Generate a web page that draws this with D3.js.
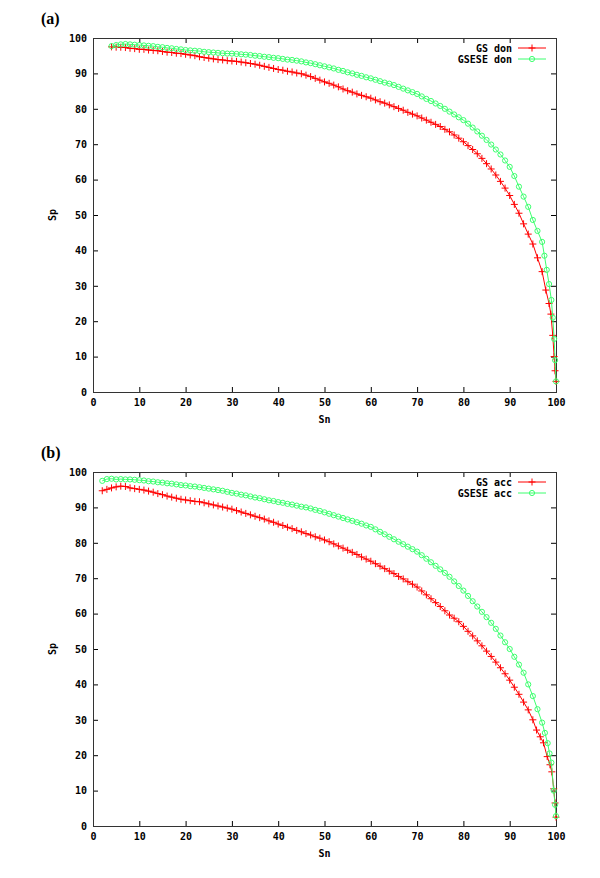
<!DOCTYPE html>
<html>
<head>
<meta charset="utf-8">
<script src="https://cdn.jsdelivr.net/npm/d3@7"></script>
<style>
  body { margin: 0; background: #fff; }
  .axis text { font-family: "DejaVu Sans Mono", monospace; font-weight: bold; font-size: 10px; fill: #000; }
  .axis line { stroke: #000; }
  .lbl { font-family: "DejaVu Sans Mono", monospace; font-weight: bold; font-size: 10px; fill: #000; }
</style>
</head>
<body>
<div id="chart"></div>
<script>
// [Sn, Sp] pairs
const gsDon = [[4,97.5],[5,97.4],[6,97.4],[7,97.3],[8,97.1],[9,97.0],[10,96.8],[11,96.8],[12,96.6],[13,96.5],[14,96.4],[15,96.2],[16,96.0],[17,95.9],[18,95.7],[19,95.6],[20,95.4],[21,95.2],[22,95.0],[23,94.7],[24,94.5],[25,94.3],[26,94.1],[27,93.9],[28,93.8],[29,93.6],[30,93.5],[31,93.4],[32,93.2],[33,93.0],[34,92.8],[35,92.6],[36,92.3],[37,92.0],[38,91.7],[39,91.4],[40,91.1],[41,90.9],[42,90.6],[43,90.4],[44,90.1],[45,89.9],[46,89.5],[47,89.1],[48,88.6],[49,88.1],[50,87.6],[51,87.2],[52,86.7],[53,86.2],[54,85.6],[55,85.1],[56,84.7],[57,84.2],[58,83.8],[59,83.4],[60,83.0],[61,82.5],[62,82.0],[63,81.6],[64,81.1],[65,80.6],[66,80.1],[67,79.6],[68,79.0],[69,78.5],[70,78.0],[71,77.4],[72,76.8],[73,76.2],[74,75.6],[75,75.0],[76,74.2],[77,73.5],[78,72.6],[79,71.7],[80,70.7],[81,69.6],[82,68.5],[83,67.3],[84,66.0],[85,64.5],[86,63.0],[87,61.3],[88,59.5],[89,57.6],[90,55.5],[91,53.0],[92,50.5],[93,47.5],[94,44.6],[95,41.8],[96,37.9],[97,34.0],[97.8,28.8],[98.5,25.0],[98.9,22.0],[99.3,16.0],[99.6,10.0],[99.8,6.0],[100,3.0]];

const gseseDon = [[4,97.7],[5,98.0],[6,98.2],[7,98.3],[8,98.2],[9,98.1],[10,98.0],[11,97.9],[12,97.8],[13,97.7],[14,97.5],[15,97.4],[16,97.2],[17,97.1],[18,96.9],[19,96.8],[20,96.6],[21,96.5],[22,96.4],[23,96.3],[24,96.1],[25,96.0],[26,95.9],[27,95.8],[28,95.7],[29,95.6],[30,95.6],[31,95.5],[32,95.4],[33,95.3],[34,95.2],[35,95.0],[36,94.9],[37,94.7],[38,94.6],[39,94.4],[40,94.3],[41,94.1],[42,93.9],[43,93.8],[44,93.6],[45,93.4],[46,93.1],[47,92.9],[48,92.6],[49,92.3],[50,92.0],[51,91.7],[52,91.4],[53,91.0],[54,90.7],[55,90.3],[56,90.0],[57,89.6],[58,89.3],[59,88.9],[60,88.6],[61,88.2],[62,87.8],[63,87.4],[64,87.1],[65,86.7],[66,86.2],[67,85.7],[68,85.2],[69,84.7],[70,84.2],[71,83.5],[72,82.8],[73,82.2],[74,81.5],[75,80.8],[76,80.0],[77,79.2],[78,78.4],[79,77.6],[80,76.8],[81,75.8],[82,74.7],[83,73.6],[84,72.4],[85,71.2],[86,69.9],[87,68.5],[88,67.1],[89,65.4],[90,63.6],[91,61.0],[92,58.0],[93,55.2],[94,52.3],[95,48.6],[96,45.5],[97,42.4],[97.5,38.5],[98,34.5],[98.5,30.5],[99,26.0],[99.3,21.0],[99.6,15.0],[99.8,9.0],[100,3.0]];

const gsAcc = [[2,94.7],[3,95.1],[4,95.5],[5,95.8],[6,96.0],[7,95.9],[8,95.5],[9,95.3],[10,95.1],[11,94.9],[12,94.6],[13,94.3],[14,93.9],[15,93.6],[16,93.2],[17,92.9],[18,92.6],[19,92.3],[20,92.1],[21,91.9],[22,91.7],[23,91.6],[24,91.3],[25,91.0],[26,90.7],[27,90.4],[28,90.1],[29,89.8],[30,89.5],[31,89.1],[32,88.7],[33,88.3],[34,87.9],[35,87.5],[36,87.1],[37,86.7],[38,86.2],[39,85.8],[40,85.3],[41,84.9],[42,84.4],[43,84.0],[44,83.5],[45,83.1],[46,82.6],[47,82.2],[48,81.7],[49,81.3],[50,80.8],[51,80.3],[52,79.7],[53,79.1],[54,78.5],[55,77.9],[56,77.3],[57,76.7],[58,76.0],[59,75.4],[60,74.8],[61,74.1],[62,73.4],[63,72.7],[64,72.0],[65,71.3],[66,70.5],[67,69.8],[68,69.0],[69,68.3],[70,67.5],[71,66.4],[72,65.3],[73,64.2],[74,63.1],[75,62.0],[76,60.8],[77,59.6],[78,58.7],[79,57.7],[80,56.4],[81,55.0],[82,53.7],[83,52.3],[84,50.9],[85,49.4],[86,47.9],[87,46.3],[88,44.7],[89,43.0],[90,41.2],[91,39.2],[92,37.2],[93,35.0],[94,32.8],[95,30.0],[95.8,27.1],[96.6,25.2],[97.3,23.5],[98.1,19.6],[98.7,17.3],[99.1,15.3],[99.5,10.5],[99.8,6.5],[100,2.5]];

const gseseAcc = [[2,97.5],[3,98.0],[4,98.1],[5,97.9],[6,98.0],[7,97.9],[8,97.9],[9,97.8],[10,97.7],[11,97.6],[12,97.4],[13,97.3],[14,97.1],[15,97.0],[16,96.8],[17,96.7],[18,96.5],[19,96.3],[20,96.2],[21,96.0],[22,95.9],[23,95.7],[24,95.5],[25,95.3],[26,95.1],[27,94.9],[28,94.7],[29,94.4],[30,94.1],[31,93.9],[32,93.6],[33,93.4],[34,93.1],[35,92.8],[36,92.6],[37,92.3],[38,92.0],[39,91.8],[40,91.5],[41,91.3],[42,91.0],[43,90.8],[44,90.5],[45,90.2],[46,90.0],[47,89.7],[48,89.3],[49,89.0],[50,88.6],[51,88.2],[52,87.8],[53,87.4],[54,87.0],[55,86.6],[56,86.2],[57,85.8],[58,85.4],[59,84.9],[60,84.5],[61,83.8],[62,83.1],[63,82.4],[64,81.7],[65,81.0],[66,80.3],[67,79.6],[68,78.9],[69,78.2],[70,77.5],[71,76.5],[72,75.5],[73,74.5],[74,73.5],[75,72.5],[76,71.5],[77,70.4],[78,69.1],[79,67.8],[80,66.5],[81,65.0],[82,63.5],[83,62.0],[84,60.5],[85,59.0],[86,57.4],[87,55.7],[88,53.8],[89,51.9],[90,50.0],[91,47.8],[92,45.6],[93,43.3],[94,40.0],[95,36.7],[96,33.0],[97,29.2],[97.6,26.3],[98.2,23.4],[98.6,20.5],[99,17.9],[99.5,10.0],[99.8,6.0],[100,2.8]];

const xTicks = [0, 10, 20, 30, 40, 50, 60, 70, 80, 90, 100];
const yTicks = [0, 10, 20, 30, 40, 50, 60, 70, 80, 90, 100];

const width = 600, height = 878;
const red = "#ff0000", green = "#3cff6e";

const svg = d3.select("#chart")
  .append("svg")
  .attr("width", width)
  .attr("height", height)
  .attr("viewBox", [0, 0, width, height]);

function plus(g, cx, cy, color) {
  g.append("path")
    .attr("d", `M${cx - 3.5},${cy}h7M${cx},${cy - 3.5}v7`)
    .attr("stroke", color)
    .attr("stroke-width", 1)
    .attr("fill", "none");
}
function ring(g, cx, cy, color) {
  g.append("circle")
    .attr("cx", cx).attr("cy", cy).attr("r", 2.6)
    .attr("stroke", color)
    .attr("stroke-width", 1)
    .attr("fill", "none");
}

function drawPanel(opt) {
  const top = opt.top, bottom = opt.top + 354, left = 93, right = 556;
  const x = d3.scaleLinear().domain([0, 100]).range([left, right]);
  const y = d3.scaleLinear().domain([0, 100]).range([bottom, top]);

  const g = svg.append("g");

  // panel letter
  g.append("text")
    .text(opt.letter)
    .attr("x", 41).attr("y", top - 14)
    .attr("font-family", "Liberation Serif, serif")
    .attr("font-weight", "bold")
    .attr("font-size", 16);

  // axes, ticks pointing inward on all four sides
  g.append("g").attr("class", "axis")
    .attr("transform", `translate(${left},0)`)
    .call(d3.axisLeft(y).tickValues(yTicks).tickSizeInner(-5).tickSizeOuter(0).tickPadding(6))
    .call(a => a.select(".domain").remove());
  g.append("g").attr("class", "axis")
    .attr("transform", `translate(0,${bottom})`)
    .call(d3.axisBottom(x).tickValues(xTicks).tickSizeInner(-5).tickSizeOuter(0).tickPadding(7))
    .call(a => a.select(".domain").remove());
  g.append("g").attr("class", "axis")
    .attr("transform", `translate(${right},0)`)
    .call(d3.axisRight(y).tickValues(yTicks).tickSizeInner(-5).tickSizeOuter(0).tickFormat(""))
    .call(a => a.select(".domain").remove());
  g.append("g").attr("class", "axis")
    .attr("transform", `translate(0,${top})`)
    .call(d3.axisTop(x).tickValues(xTicks).tickSizeInner(-5).tickSizeOuter(0).tickFormat(""))
    .call(a => a.select(".domain").remove());

  g.append("rect")
    .attr("x", left + 0.5).attr("y", top + 0.5)
    .attr("width", right - left).attr("height", bottom - top)
    .attr("fill", "none").attr("stroke", "#333").attr("stroke-width", 1);

  // axis titles
  g.append("text").attr("class", "lbl")
    .text("Sn")
    .attr("x", x(50)).attr("y", bottom + 31)
    .attr("text-anchor", "middle");
  g.append("text").attr("class", "lbl")
    .text("Sp")
    .attr("transform", `translate(56,${y(50)}) rotate(-90)`)
    .attr("text-anchor", "middle");

  const line = d3.line()
    .x(d => x(d[0]))
    .y(d => y(d[1]));

  const series = [
    { data: opt.gs, color: red, mark: plus, name: opt.gsName },
    { data: opt.gsese, color: green, mark: ring, name: opt.gseseName }
  ];

  series.forEach((s, i) => {
    g.append("path")
      .datum(s.data)
      .attr("fill", "none")
      .attr("stroke", s.color)
      .attr("stroke-width", 1)
      .attr("d", line);
    const mg = g.append("g");
    s.data.forEach(d => s.mark(mg, x(d[0]), y(d[1]), s.color));

    // legend entry
    const ly = top + 10 + i * 11;
    g.append("text").attr("class", "lbl")
      .text(s.name)
      .attr("x", 512).attr("y", ly)
      .attr("dy", "0.35em")
      .attr("text-anchor", "end");
    g.append("line")
      .attr("x1", 518).attr("x2", 546)
      .attr("y1", ly).attr("y2", ly)
      .attr("stroke", s.color);
    s.mark(g, 532, ly, s.color);
  });
}

drawPanel({ top: 38, letter: "(a)", gs: gsDon, gsese: gseseDon, gsName: "GS don", gseseName: "GSESE don" });
drawPanel({ top: 472, letter: "(b)", gs: gsAcc, gsese: gseseAcc, gsName: "GS acc", gseseName: "GSESE acc" });
</script>
</body>
</html>
